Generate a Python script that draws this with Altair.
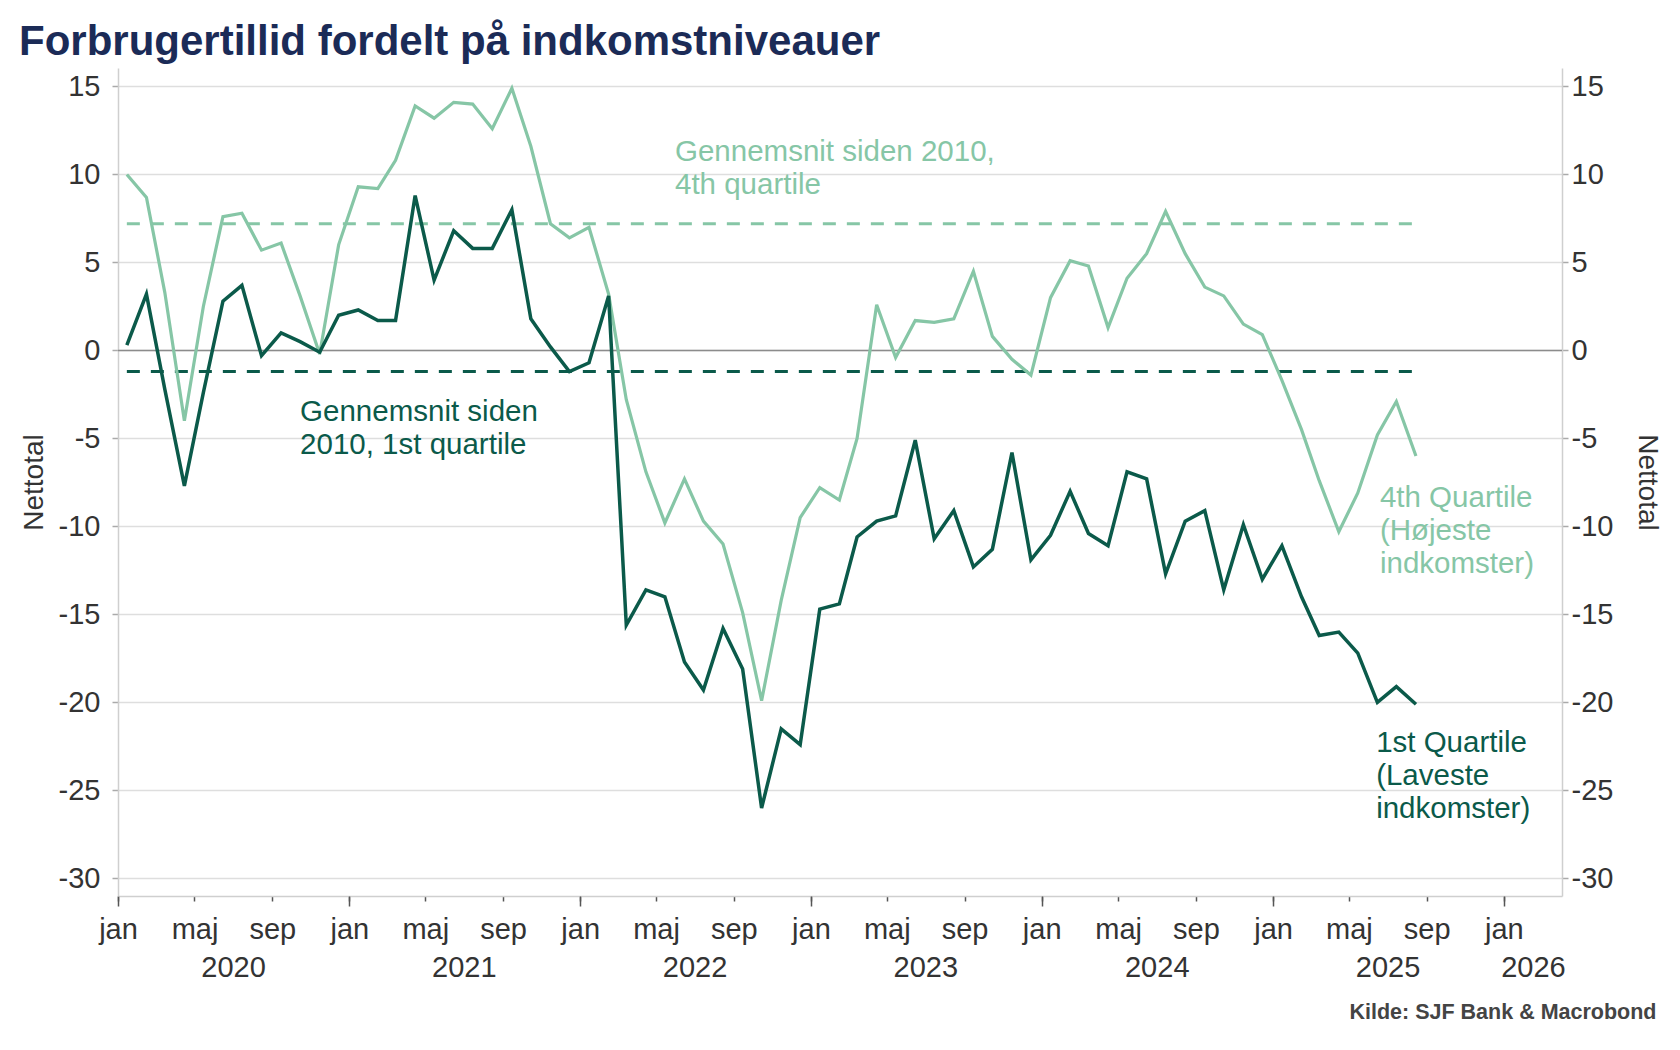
import altair as alt
import pandas as pd

FONT = "Liberation Sans"
DARK = "#0b5a4a"
LIGHT = "#86c6a6"
NAVY = "#1b2b57"
TEXT = "#333333"

# Monthly observations, Jan 2020 - Aug 2025 (plotted mid-month)
n_months = 68
months = [f"{2020 + i // 12}-{i % 12 + 1:02d}-15" for i in range(n_months)]

q1_values = [0.3, 3.2, -2.2, -7.7, -2.4, 2.8, 3.7, -0.3, 1.0, 0.5,
             -0.1, 2.0, 2.3, 1.7, 1.7, 8.8, 4.0, 6.8, 5.8, 5.8,
             8.0, 1.8, 0.2, -1.2, -0.7, 3.1, -15.6, -13.6, -14.0, -17.7,
             -19.3, -15.8, -18.1, -26.0, -21.5, -22.4, -14.7, -14.4, -10.6, -9.7,
             -9.4, -5.1, -10.7, -9.1, -12.3, -11.3, -5.8, -11.9, -10.5, -8.0,
             -10.4, -11.1, -6.9, -7.3, -12.7, -9.7, -9.1, -13.6, -9.9, -13.0,
             -11.1, -14.0, -16.2, -16.0, -17.2, -20.0, -19.1, -20.1]

q4_values = [10.0, 8.7, 3.3, -4.0, 2.5, 7.6, 7.8, 5.7, 6.1, 3.1,
             -0.2, 6.0, 9.3, 9.2, 10.8, 13.9, 13.2, 14.1, 14.0, 12.6,
             14.9, 11.6, 7.2, 6.4, 7.0, 3.2, -2.8, -6.9, -9.8, -7.3,
             -9.7, -11.0, -14.9, -19.9, -14.2, -9.5, -7.8, -8.5, -5.0, 2.6,
             -0.4, 1.7, 1.6, 1.8, 4.5, 0.8, -0.5, -1.4, 3.0, 5.1,
             4.8, 1.3, 4.1, 5.5, 7.9, 5.5, 3.6, 3.1, 1.5, 0.9,
             -1.7, -4.5, -7.4, -10.3, -8.1, -4.8, -2.9, -6.0]

avg_series = ["q4", "q1"]
avg_values = [7.2, -1.2]

annot_dates = ["2022-05-31", "2020-10-15", "2025-06-19", "2025-06-13"]
annot_values = [11.28, -3.52, -8.38, -22.33]
annot_texts = [["Gennemsnit siden 2010,", "4th quartile"],
               ["Gennemsnit siden", "2010, 1st quartile"],
               ["4th Quartile", "(Højeste", "indkomster)"],
               ["1st Quartile", "(Laveste", "indkomster)"]]
annot_series = ["q4", "q1", "q4", "q1"]

month_names = ["jan", "feb", "mar", "apr", "maj", "jun", "jul", "aug", "sep", "okt", "nov", "dec"]
y_ticks = [-30, -25, -20, -15, -10, -5, 0, 5, 10, 15]
year_labels = [2020, 2021, 2022, 2023, 2024, 2025, 2026]

# ---- tables
df_q1 = pd.DataFrame({"date": months, "value": q1_values})
df_q4 = pd.DataFrame({"date": months, "value": q4_values})
df_avg = pd.DataFrame({"start": [months[0]] * 2, "end": [months[-1]] * 2,
                       "value": avg_values, "series": avg_series})
df_zero = pd.DataFrame({"value": [0]})
df_annot = pd.DataFrame({"date": annot_dates, "value": annot_values,
                         "text": annot_texts, "series": annot_series})

x_scale = alt.Scale(type="utc", nice=False,
                    domain=[alt.DateTime(year=2020, month=1, date=1, utc=True),
                            alt.DateTime(year=2026, month=4, date=3, utc=True)])
y_scale = alt.Scale(domain=[-31, 16.05], nice=False, zero=False)
color_enc = alt.Color("series:N", legend=None,
                      scale=alt.Scale(domain=["q4", "q1"], range=[LIGHT, DARK]))

month_ticks = [alt.DateTime(year=y, month=m, date=1, utc=True)
               for y in range(2020, 2027) for m in (1, 5, 9)
               if not (y == 2026 and m > 1)]
jan_ticks = [alt.DateTime(year=y, month=1, date=1, utc=True) for y in year_labels]
year_mids = [alt.DateTime(year=y, month=7, date=1, utc=True) for y in year_labels[:-1]]
year_mids.append(alt.DateTime(year=2026, month=2, date=16, utc=True))

month_expr = "[" + ",".join(f"'{m}'" for m in month_names) + "][utcmonth(datum.value)]"

month_axis = alt.Axis(orient="bottom", values=month_ticks, labelExpr=month_expr, grid=False,
                      domain=True, domainColor="#cfcfcf", domainWidth=1.5,
                      ticks=True, tickColor="#555555", tickWidth=1.5, tickSize=5,
                      labelFont=FONT, labelFontSize=29, labelColor=TEXT,
                      labelPadding=14, labelFlush=False, labelOverlap=False,
                      title="Kilde: SJF Bank & Macrobond", titleX=1538, titleY=116,
                      titleAlign="right", titleBaseline="middle", titleFont=FONT,
                      titleFontSize=21.5, titleFontWeight="bold", titleColor="#444444")

jan_axis = alt.Axis(orient="bottom", values=jan_ticks, labels=False, domain=False,
                    grid=False, ticks=True, tickColor="#555555", tickWidth=1.5,
                    tickSize=10, title=None)

year_axis = alt.Axis(orient="bottom", values=year_mids, labelExpr="utcFormat(datum.value, '%Y')",
                     grid=False, domain=False, ticks=False, tickSize=0,
                     labelFont=FONT, labelFontSize=29, labelColor=TEXT,
                     labelPadding=57, labelFlush=False, labelOverlap=False, title=None)

def y_axis(orient, grid, pad, tpad):
    return alt.Axis(orient=orient, values=y_ticks, labelExpr="'' + datum.value",
                    grid=grid, gridColor="#dedede", gridWidth=1.5,
                    domain=True, domainColor="#cfcfcf", domainWidth=1.5,
                    tickColor="#aaaaaa", tickSize=6, tickWidth=1.5,
                    labelFont=FONT, labelFontSize=29, labelColor=TEXT, labelPadding=pad,
                    labelFlush=False,
                    title="Nettotal", titleFont=FONT, titleFontSize=28,
                    titleFontWeight="normal", titleColor=TEXT, titlePadding=tpad)

zero = alt.Chart(df_zero).mark_rule(color="#8c8c8c", strokeWidth=1.5).encode(
    y=alt.Y("value:Q", scale=y_scale, axis=None))

avg = alt.Chart(df_avg).mark_rule(strokeDash=[13, 11], strokeWidth=3).encode(
    x=alt.X("start:T", scale=x_scale, axis=year_axis),
    x2="end:T",
    y=alt.Y("value:Q", scale=y_scale, axis=y_axis("right", False, 3, 20)),
    color=color_enc)

line_q4 = alt.Chart(df_q4).mark_line(strokeWidth=3.2, color=LIGHT).encode(
    x=alt.X("date:T", scale=x_scale, axis=month_axis),
    y=alt.Y("value:Q", scale=y_scale, axis=y_axis("left", True, 12, 10)))

line_q1 = alt.Chart(df_q1).mark_line(strokeWidth=3.5, color=DARK).encode(
    x=alt.X("date:T", scale=x_scale, axis=jan_axis),
    y=alt.Y("value:Q", scale=y_scale, axis=None))

labels = alt.Chart(df_annot).mark_text(align="left", baseline="middle", font=FONT,
                                       fontSize=29.5, lineHeight=33).encode(
    x=alt.X("date:T", scale=x_scale, axis=None),
    y=alt.Y("value:Q", scale=y_scale, axis=None),
    text="text:N",
    color=color_enc)

chart = alt.layer(zero, avg, line_q4, line_q1, labels).resolve_axis(
    x="independent", y="independent"
).properties(
    width=1444, height=828,
    padding={"left": 118, "top": 68, "right": 118, "bottom": 154},
    autosize=alt.AutoSizeParams(type="none"),
    background="white",
    title=alt.TitleParams(text="Forbrugertillid fordelt på indkomstniveauer",
                          anchor="start", frame="group", dx=-99, offset=4,
                          font=FONT, fontSize=42, fontWeight="bold", color=NAVY)
).configure_view(stroke=None)

chart.save("out.html", embed_options={"renderer": "svg", "actions": False})
